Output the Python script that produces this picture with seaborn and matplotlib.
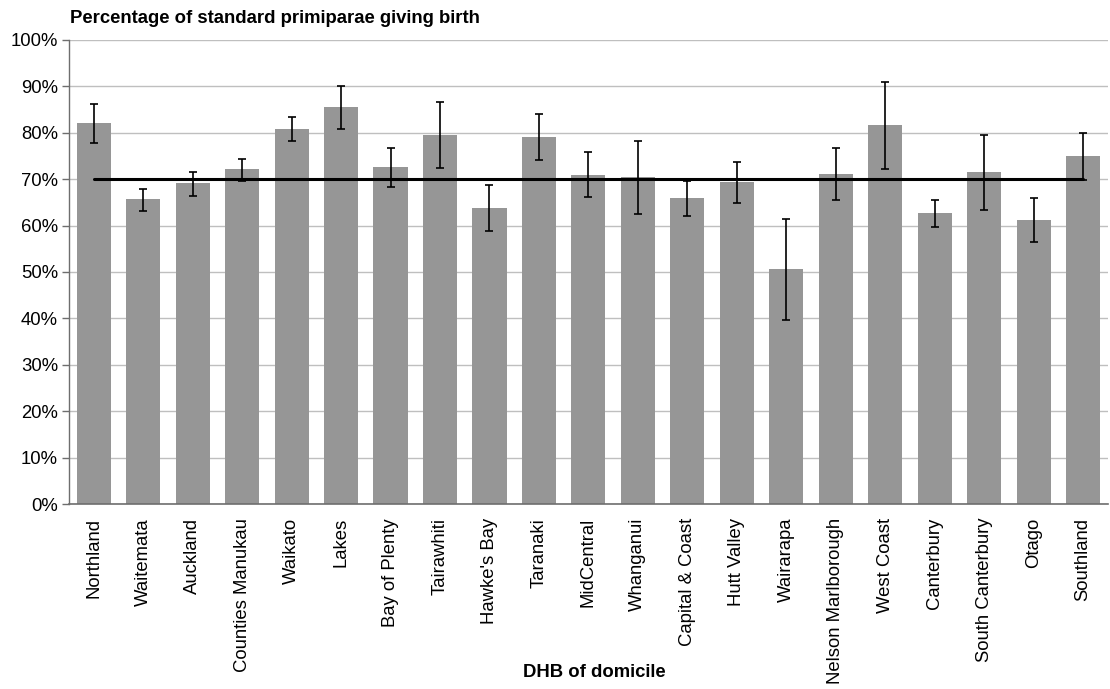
import matplotlib
matplotlib.use("Agg")
import matplotlib.pyplot as plt
import seaborn as sns
import pandas as pd
import numpy as np
from matplotlib.ticker import PercentFormatter, MultipleLocator

categories = ["Northland", "Waitemata", "Auckland", "Counties Manukau", "Waikato", "Lakes",
              "Bay of Plenty", "Tairawhiti", "Hawke's Bay", "Taranaki", "MidCentral", "Whanganui",
              "Capital & Coast", "Hutt Valley", "Wairarapa", "Nelson Marlborough", "West Coast",
              "Canterbury", "South Canterbury", "Otago", "Southland"]
values = [82.0, 65.7, 69.1, 72.1, 80.8, 85.5, 72.6, 79.5, 63.7, 79.0, 71.0, 70.4,
          65.9, 69.3, 50.7, 71.2, 81.6, 62.7, 71.5, 61.1, 74.9]
ci_upper = [86.1, 67.9, 71.6, 74.4, 83.4, 90.0, 76.7, 86.6, 68.7, 84.0, 75.8, 78.2,
            69.5, 73.8, 61.4, 76.8, 90.9, 65.5, 79.5, 66.0, 80.0]
ci_lower = [77.9, 63.1, 66.4, 69.7, 78.2, 80.8, 68.3, 72.5, 58.8, 74.1, 66.1, 62.6,
            62.1, 64.8, 39.7, 65.6, 72.1, 59.8, 63.4, 56.5, 69.8]
national = [70.0] * len(categories)

df = pd.DataFrame({"DHB": categories, "value": values,
                   "upper": ci_upper, "lower": ci_lower, "national": national})

sns.set_theme(style="white")
plt.rcParams['font.family'] = ['Liberation Sans', 'DejaVu Sans']
plt.rcParams['text.color'] = 'black'

fig = plt.figure(figsize=(11.10, 6.89), dpi=100)
ax = fig.add_axes([0.0622, 0.2685, 0.9358, 0.6735])

sns.barplot(data=df, x="DHB", y="value", color="#969696", saturation=1,
            width=0.69, ax=ax, zorder=2, linewidth=0)
xs = np.arange(len(categories))
ax.errorbar(xs, df["value"],
            yerr=[df["value"] - df["lower"], df["upper"] - df["value"]],
            fmt="none", ecolor="black", elinewidth=1.2, capsize=3.2, capthick=1.2, zorder=4)
sns.lineplot(x=xs, y=df["national"], color="black", linewidth=2.2, ax=ax, zorder=3)

ax.set_ylim(0, 100)
ax.set_xlim(-0.5, len(categories) - 0.5)
ax.yaxis.set_major_locator(MultipleLocator(10))
ax.yaxis.set_major_formatter(PercentFormatter(decimals=0))
ax.yaxis.grid(True, color="#bfbfbf", linewidth=1.0, zorder=0)
ax.set_axisbelow(True)

for s in ["top", "right"]:
    ax.spines[s].set_visible(False)
ax.spines["left"].set_color("#6e6e6e")
ax.spines["bottom"].set_color("#6e6e6e")
ax.spines["left"].set_linewidth(1.0)
ax.spines["bottom"].set_linewidth(1.2)

ax.tick_params(axis="y", which="major", left=True, length=5, width=1, color="#6e6e6e",
               labelsize=13.3, pad=3, labelcolor="black")
ax.tick_params(axis="x", bottom=False, labelsize=13.3, pad=4, labelcolor="black")
ax.set_xticks(xs)
ax.set_xticklabels(categories, rotation=90)

ax.set_ylabel("")
ax.set_xlabel("DHB of domicile", fontsize=13.3, fontweight="bold", color="black",
              va="center", ha="center")
ax.xaxis.set_label_coords(0.506, -0.364)
fig.text(0.0635, 0.9666, "Percentage of standard primiparae giving birth",
         fontsize=13.3, fontweight="bold", ha="left", va="baseline", color="black")

fig.savefig("out.png", dpi=100)
